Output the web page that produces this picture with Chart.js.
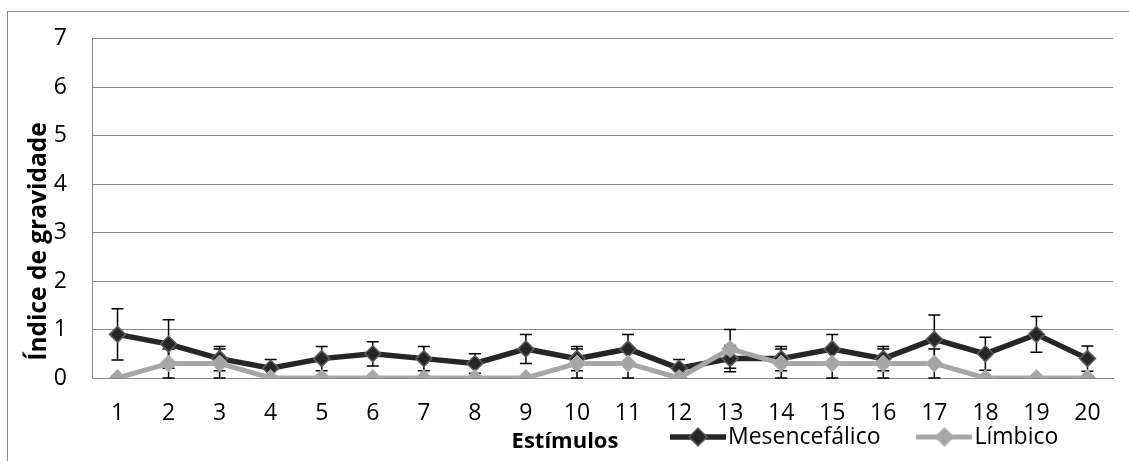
<!DOCTYPE html>
<html lang="pt">
<head>
<meta charset="utf-8">
<title>Índice de gravidade por estímulo</title>
<script src="https://cdn.jsdelivr.net/npm/chart.js@4.4.1/dist/chart.umd.min.js"></script>
<style>
  html, body { margin: 0; padding: 0; background: #fff; }
  canvas { display: block; }
</style>
</head>
<body>
<canvas id="grafico" width="1129" height="461"></canvas>
<script>
// Estímulos (eixo X)
const estimulos = ['1','2','3','4','5','6','7','8','9','10','11','12','13','14','15','16','17','18','19','20'];
// Índice médio de gravidade por grupo
const mesencefalico = [0.9, 0.7, 0.4, 0.2, 0.4, 0.5, 0.4, 0.3, 0.6, 0.4, 0.6, 0.2, 0.4, 0.4, 0.6, 0.4, 0.8, 0.5, 0.9, 0.4];
const limbico       = [0.0, 0.3, 0.3, 0.0, 0.0, 0.0, 0.0, 0.0, 0.0, 0.3, 0.3, 0.0, 0.6, 0.3, 0.3, 0.3, 0.3, 0.0, 0.0, 0.0];
// Erro padrão (barras de erro, ±)
const erroMesencefalico = [0.53, 0.5, 0.25, 0.18, 0.25, 0.25, 0.25, 0.2, 0.3, 0.25, 0.3, 0.18, 0.27, 0.25, 0.3, 0.25, 0.5, 0.34, 0.37, 0.26];
const erroLimbico       = [0, 0.3, 0.3, 0, 0, 0, 0, 0, 0, 0.3, 0.3, 0, 0.4, 0.3, 0.3, 0.3, 0.3, 0, 0, 0];
// Marcas do eixo Y
const ticksIndice = [0, 1, 2, 3, 4, 5, 6, 7];

const COR_GRADE = '#898989';
const FONTE = '"Open Sans"';

Chart.defaults.font.family = FONTE;
Chart.defaults.color = '#000';

// Amostra de legenda: traço da série com o losango ao centro
function amostraLegenda(ds) {
  const c = document.createElement('canvas');
  c.width = 56; c.height = 22;
  const g = c.getContext('2d');
  g.strokeStyle = ds.borderColor;
  g.lineWidth = ds.borderWidth;
  g.beginPath(); g.moveTo(0, 11); g.lineTo(56, 11); g.stroke();
  const r = ds.pointRadius + 1;
  g.beginPath();
  g.moveTo(28 - r, 11); g.lineTo(28, 11 - r); g.lineTo(28 + r, 11); g.lineTo(28, 11 + r); g.closePath();
  g.fillStyle = ds.pointBackgroundColor; g.fill();
  g.lineWidth = ds.pointBorderWidth; g.strokeStyle = ds.pointBorderColor; g.stroke();
  return c;
}

// Moldura externa do gráfico
const moldura = {
  id: 'moldura',
  beforeDraw(chart) {
    const ctx = chart.ctx;
    ctx.save();
    ctx.fillStyle = '#fff';
    ctx.fillRect(0, 0, chart.width, chart.height);
    ctx.strokeStyle = COR_GRADE;
    ctx.lineWidth = 1;
    ctx.strokeRect(7.5, 11.5, chart.width + 20, chart.height + 20);
    ctx.restore();
  }
};

// Barras de erro (±) desenhadas pela escala Y
const barrasErro = {
  id: 'barrasErro',
  beforeDatasetsDraw(chart) {
    const ctx = chart.ctx;
    const y = chart.scales.y;
    ctx.save();
    ctx.strokeStyle = '#000';
    ctx.lineWidth = 1.5;
    chart.data.datasets.forEach((ds, di) => {
      const meta = chart.getDatasetMeta(di);
      meta.data.forEach((pt, i) => {
        const e = ds.erros[i];
        if (!e) return;
        const v = ds.data[i];
        const yTop = y.getPixelForValue(v + e);
        const yBot = y.getPixelForValue(Math.max(v - e, 0));
        const x = pt.x;
        ctx.beginPath();
        ctx.moveTo(x, yTop); ctx.lineTo(x, yBot);
        ctx.moveTo(x - 6, yTop); ctx.lineTo(x + 6, yTop);
        ctx.moveTo(x - 6, yBot); ctx.lineTo(x + 6, yBot);
        ctx.stroke();
      });
    });
    ctx.restore();
  }
};

// Legenda na mesma faixa do título do eixo X
const posicaoLegenda = {
  id: 'posicaoLegenda',
  afterLayout(chart) {
    const lg = chart.legend;
    lg.left = 634;
    lg.right = chart.width;
    lg.width = lg.right - lg.left;
    lg.top = 380;
    lg.height = 80;
    lg.bottom = lg.top + lg.height;
  }
};

const fonteTexto = { family: FONTE, size: 23, weight: '500' };

new Chart(document.getElementById('grafico'), {
  type: 'line',
  data: {
    labels: estimulos,
    datasets: [
      {
        label: 'Mesencefálico',
        data: mesencefalico,
        erros: erroMesencefalico,
        borderColor: '#262626',
        borderWidth: 5.5,
        pointStyle: 'rectRot',
        pointRadius: 8,
        pointBackgroundColor: '#262626',
        pointBorderColor: '#5e5e5e',
        pointBorderWidth: 1.5,
        tension: 0,
        order: 2
      },
      {
        label: 'Límbico',
        data: limbico,
        erros: erroLimbico,
        borderColor: '#a6a6a6',
        borderWidth: 5,
        pointStyle: 'rectRot',
        pointRadius: 8.5,
        pointBackgroundColor: '#a6a6a6',
        pointBorderColor: '#b4b4b4',
        pointBorderWidth: 1,
        tension: 0,
        order: 1
      }
    ]
  },
  options: {
    responsive: false,
    animation: false,
    devicePixelRatio: 1,
    layout: { padding: { top: 28, bottom: 6, left: 17, right: 16 } },
    scales: {
      x: {
        type: 'category',
        offset: true,
        grid: { display: false, drawTicks: false },
        border: { color: COR_GRADE, width: 1 },
        ticks: { font: fonteTexto, color: '#000', padding: 22, maxRotation: 0, autoSkip: false },
        afterFit(scale) { scale.height = 50.59; }
      },
      y: {
        min: 0,
        max: 7,
        afterBuildTicks(scale) { scale.ticks = ticksIndice.map(v => ({ value: v })); },
        grid: { color: COR_GRADE, lineWidth: 1, drawTicks: false },
        border: { color: COR_GRADE, width: 1 },
        ticks: { font: fonteTexto, color: '#000', padding: 25 },
        afterFit(scale) { scale.width = 38.3; }
      }
    },
    plugins: {
      tooltip: { enabled: false },
      title: {
        display: true,
        text: 'Índice de gravidade',
        position: 'left',
        fullSize: true,
        color: '#000',
        font: { family: FONTE, size: 24.5, weight: 'bold', lineHeight: 1.2 },
        padding: { top: 7.3, bottom: 0 }
      },
      subtitle: {
        display: true,
        text: 'Estímulos',
        position: 'bottom',
        fullSize: true,
        color: '#000',
        font: { family: FONTE, size: 22, weight: 'bold', lineHeight: 1.2 },
        padding: { top: 0, bottom: 0 }
      },
      legend: {
        display: true,
        position: 'bottom',
        align: 'start',
        maxHeight: 0.01,
        labels: {
          usePointStyle: true,
          pointStyleWidth: 37,
          padding: 45.5,
          color: '#000',
          font: fonteTexto,
          generateLabels(chart) {
            const base = Chart.defaults.plugins.legend.labels.generateLabels(chart);
            return base
              .sort((a, b) => a.datasetIndex - b.datasetIndex)
              .map(item => {
                item.pointStyle = amostraLegenda(chart.data.datasets[item.datasetIndex]);
                item.rotation = 0;
                return item;
              });
          }
        }
      }
    }
  },
  plugins: [moldura, barrasErro, posicaoLegenda]
});
</script>
</body>
</html>
